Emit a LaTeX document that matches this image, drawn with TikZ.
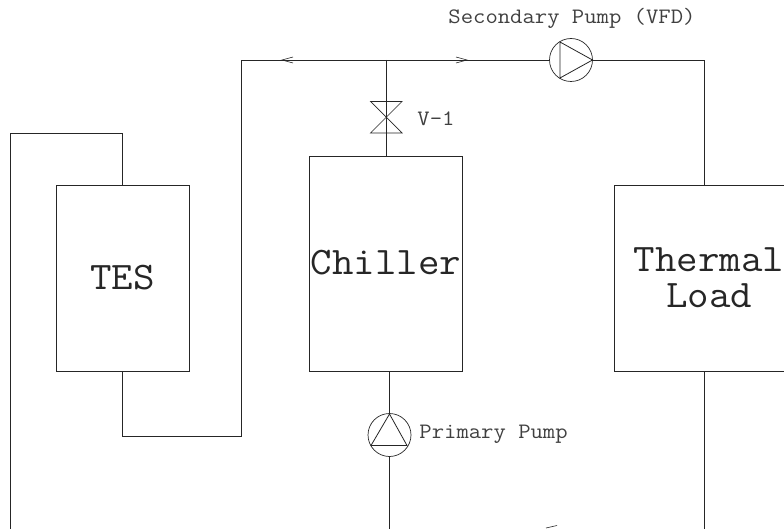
\documentclass[tikz,border=0pt]{standalone}
\usepackage{fontspec}
\usetikzlibrary{calc}
\newfontfamily\lblmono[FakeStretch=1.09]{Latin Modern Mono}
\newfontfamily\bigmono[FakeStretch=1.07]{Latin Modern Mono}
\newcommand{\lblfont}{\lblmono\fontsize{22}{24}\selectfont}
\newcommand{\bigfont}{\bigmono\fontsize{39}{36}\selectfont}
\begin{document}
\begin{tikzpicture}[x=1pt,y=-1pt,
  line width=0.9pt,
  draw=black!85,
  eq/.style={draw,rectangle,inner sep=0pt,font=\bigfont,align=center,text=black!85},
  pumpc/.style={draw,circle,minimum size=43pt,inner sep=0pt,line width=0.7pt},
  lbl/.style={inner sep=0pt,anchor=west,font=\lblfont,text=black!75}]
\useasboundingbox (0,0) rectangle (784,529);
% equipment
\node[eq,minimum width=133pt,minimum height=186pt] (tes) at (122.5,278) {TES};
\node[eq,minimum width=153pt,minimum height=215pt] (chiller) at (386,263.5) {\raisebox{1.5pt}{Chiller}};
\node[eq,minimum width=190pt,minimum height=186pt] (load) at (709,278) {Thermal\\Load};
\node[pumpc] (sp) at (571,60) {};
\node[pumpc] (pp) at (389.5,435) {};
% free ends and corners
\coordinate (tee) at (386.5,60);
\coordinate (ppbot) at (389.5,529);
\coordinate (loadbot) at (704,529);
\coordinate (leftbot) at (10.5,529);
% piping
\draw (tes.north) -- (122.5,133) -- (10.5,133) -- (leftbot);
\draw (tes.south) -- (122.5,436) -- (241.5,436) -- (241.5,60) -- (tee);
\draw (tee) -- (sp.west);
\draw (sp.east) -- (704,60) -- (704,185);
\draw (704,371) -- (loadbot);
\draw (tee) -- (386.5,156);
\draw (389.5,371) -- (pp.north);
\draw (pp.south) -- (ppbot);
% valve
\draw[line width=0.7pt] (370.5,101.5) -- (402,101.5) -- (370.5,133) -- (402,133) -- cycle;
% pump triangles
\draw[line width=0.8pt] (560,42) -- (592.5,60) -- (560,78) -- cycle;
\draw[line width=0.8pt] (389.5,414) -- (407,445.5) -- (371,445.5) -- cycle;
% flow arrows
\draw[line width=0.6pt] (293,57) -- (282,60) -- (293,63);
\draw[line width=0.6pt] (456,57) -- (467,60) -- (456,63);
\draw[line width=0.6pt] (546,528) -- (557,525.5);
% labels
\node[lbl] (lsp) at (448,18) {Secondary Pump (VFD)};
\node[lbl] (lv) at (417,119) {V-1};
\node[lbl] (lpp) at (419,434.5) {Primary Pump};
\end{tikzpicture}
\end{document}
